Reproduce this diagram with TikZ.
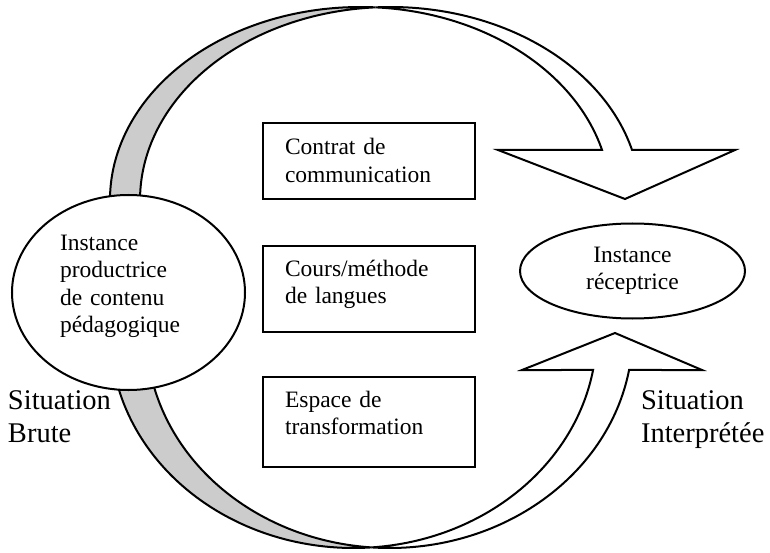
\documentclass[tikz,border=0pt]{standalone}
\usepackage{fontspec}
\setmainfont{Liberation Serif}
\usetikzlibrary{shapes.geometric}
\definecolor{dos}{RGB}{204,204,204}
\newcommand\txtnormal{\fontsize{23.5}{27.5}\selectfont}
\newcommand\txtgrand{\fontsize{28.5}{33}\selectfont}
\tikzset{
  cadre/.style={draw, fill=white, anchor=north west, outer sep=0pt, inner xsep=22pt, inner ysep=0pt, text width=168pt, align=left, font=\txtnormal},
  instance/.style={draw, fill=white, ellipse, inner sep=0pt, font=\txtnormal},
  situation/.style={anchor=base west, inner sep=0pt, align=left, font=\txtgrand},
  bande/.style={draw, fill=dos},
  fleche/.style={draw, fill=white}
}
\begin{document}
\begin{tikzpicture}[x=1pt, y=1pt, line width=2pt]
    \useasboundingbox (0,0) rectangle (770,-553);

    % Centres of the arcs
    \coordinate (h1) at (360.3,-200);
    \coordinate (h2) at (390.3,-200);
    \coordinate (b1) at (353.5,-333);
    \coordinate (b2) at (389.5,-333);

    % Upper arrow
    \path[bande] ([shift={(190:250.3pt and 193pt)}]h1)
        arc[start angle=190, end angle=86.56, x radius=250.3pt, y radius=193pt]
        arc[start angle=93.44, end angle=190, x radius=250.3pt, y radius=193pt] -- cycle;
    \path[fleche] ([shift={(86.56:250.3pt and 193pt)}]h1)
        arc[start angle=86.56, end angle=15.02, x radius=250.3pt, y radius=193pt]
        -- (498,-150) -- (625,-199) -- (735,-150)
        -- ([shift={(15.02:250.3pt and 193pt)}]h2)
        arc[start angle=15.02, end angle=93.44, x radius=250.3pt, y radius=193pt] -- cycle;

    % Lower arrow
    \path[bande] ([shift={(170:243.2pt and 215pt)}]b1)
        arc[start angle=170, end angle=274.24, x radius=243.2pt, y radius=215pt]
        arc[start angle=265.76, end angle=170, x radius=243.2pt, y radius=215pt] -- cycle;
    \path[fleche] ([shift={(274.24:243.2pt and 215pt)}]b1)
        arc[start angle=274.24, end angle=350.09, x radius=243.2pt, y radius=215pt]
        -- (522,-370) -- (615,-333) -- (702,-370)
        -- ([shift={(350.09:243.2pt and 215pt)}]b2)
        arc[start angle=350.09, end angle=265.76, x radius=243.2pt, y radius=215pt] -- cycle;

    % Instances
    \node[instance, minimum width=233pt, minimum height=195pt, text width=137pt, align=left,
          text height=20pt, text depth=105pt] (productrice) at (128.5,-292.5)
        {Instance\\productrice\\de contenu\\pédagogique};
    \node[instance, minimum width=225pt, minimum height=95pt, align=center] (receptrice) at (632.5,-271)
        {Instance\\réceptrice};

    % Boxes
    \node[cadre, text height=32pt, text depth=44pt] (contrat) at (263,-123) {Contrat de\\communication};
    \node[cadre, text height=30pt, text depth=56pt] (cours) at (263,-246) {Cours/méthode\\de langues};
    \node[cadre, text height=30pt, text depth=60pt] (espace) at (263,-377) {Espace de\\transformation};

    % Situations
    \node[situation] (brute) at (7,-442) {Situation\\Brute};
    \node[situation] (interpretee) at (640,-442) {Situation\\Interprétée};
\end{tikzpicture}
\end{document}
